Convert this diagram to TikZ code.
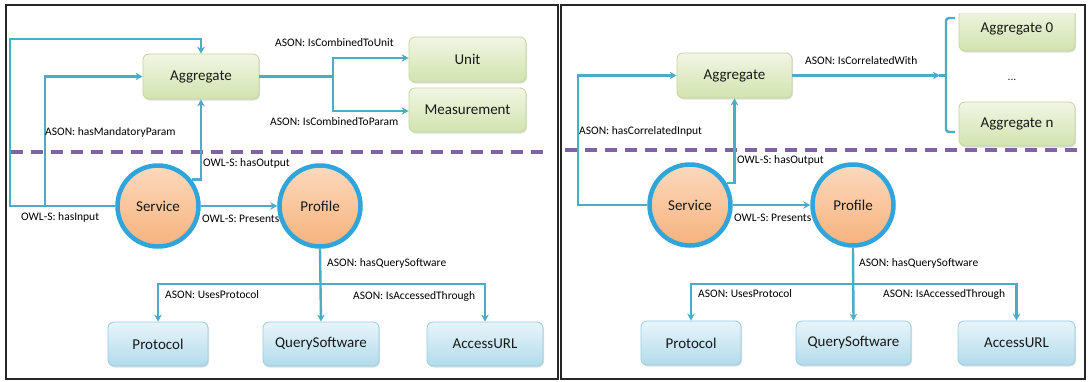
\documentclass[tikz,border=0pt]{standalone}
\usepackage{fontspec}
\setmainfont{Carlito}
\usetikzlibrary{arrows.meta,shadows}
\definecolor{linec}{HTML}{4BACC6}
\definecolor{gtop}{HTML}{F1F6E4}
\definecolor{gbot}{HTML}{D2E3AE}
\definecolor{gbord}{HTML}{C3D79C}
\definecolor{btop}{HTML}{E8F5FB}
\definecolor{bbot}{HTML}{B2DBEB}
\definecolor{bbord}{HTML}{97CDE2}
\definecolor{ctop}{HTML}{FCD9BD}
\definecolor{cbot}{HTML}{F7B27C}
\definecolor{cbord}{HTML}{2FA5DB}
\definecolor{dashc}{HTML}{8064A2}
\tikzset{
  link/.style={draw=linec, line width=2.4pt},
  linkarrow/.style={link, -{Stealth[length=7pt,width=7.5pt]}},
  greenbox/.style={rectangle, rounded corners=6pt, draw=gbord, line width=0.8pt,
    top color=gtop, bottom color=gbot, minimum width=116pt, minimum height=45pt,
    font=\fontsize{15}{18}\selectfont, text=black!90,
    drop shadow={opacity=0.25, shadow xshift=1pt, shadow yshift=-1.5pt}},
  bluebox/.style={greenbox, draw=bbord, top color=btop, bottom color=bbot, minimum height=44pt},
  ball/.style={circle, draw=cbord, line width=4.5pt, minimum size=81pt, inner sep=0pt,
    top color=ctop, bottom color=cbot, font=\fontsize{15}{18}\selectfont, text=black!90},
  lab/.style={anchor=west, inner sep=0pt, font=\fontsize{11.5}{13}\selectfont, text=black},
  divider/.style={draw=dashc, line width=3.2pt, dash pattern=on 12pt off 8pt},
  panel/.style={draw=black!85, line width=1.4pt}
}
\begin{document}
\begin{tikzpicture}[x=1pt,y=-1pt]
\useasboundingbox[fill=white] (0,0) rectangle (1088,381);
% panels
\draw[panel] (6,5) rectangle (558,379);
\draw[panel] (561,5) rectangle (1085,379);
% dashed dividers
\coordinate (dl1) at (11,152); \coordinate (dl2) at (546,152);
\coordinate (dr1) at (565,150); \coordinate (dr2) at (1084,150);
\draw[divider] (dl1) -- (dl2);
\draw[divider] (dr1) -- (dr2);

% ================= LEFT PANEL =================
\node[greenbox] (agg1) at (201,76.5) {Aggregate};
\node[greenbox, minimum width=117pt] (unit) at (467.5,59.5) {Unit};
\node[greenbox, minimum width=117pt, minimum height=44pt] (meas) at (467.5,110) {Measurement};
\node[ball] (serv1) at (158,206) {Service};
\node[ball] (prof1) at (320,206) {Profile};
\node[bluebox, minimum width=100pt] (proto1) at (158,344) {Protocol};
\node[bluebox] (qs1) at (321,344) {QuerySoftware};
\node[bluebox] (url1) at (485,344) {AccessURL};

\coordinate (li1) at (10,206);
\coordinate (li2) at (10,39);
\coordinate (li3) at (45,206);
\coordinate (sp1) at (333,76.5);
\coordinate (bus1) at (320,284);

\draw[linkarrow] (serv1.west) -- (li1) -- (li2) -| (agg1.north);
\draw[linkarrow] (li3) |- (agg1.west);
\draw[linkarrow] (serv1.38) -| (agg1.south);
\draw[link] (agg1.east) -- (sp1);
\draw[linkarrow] (sp1) |- ([yshift=1.5pt]unit.west);
\draw[linkarrow] (sp1) |- ([yshift=-1pt]meas.west);
\draw[linkarrow] (serv1.east) -- (prof1.west);
\draw[linkarrow] (prof1.south) -- (qs1.north);
\draw[linkarrow] (bus1) -| (proto1.north);
\draw[linkarrow] (bus1) -| (url1.north);

\node[lab] (l1) at (275,43) {ASON: IsCombinedToUnit};
\node[lab] (l2) at (270,122) {ASON: IsCombinedToParam};
\node[lab] (l3) at (45,132) {ASON: hasMandatoryParam};
\node[lab] (l4) at (203,163) {OWL-S: hasOutput};
\node[lab] (l5) at (21,217) {OWL-S: hasInput};
\node[lab] (l6) at (202,219) {OWL-S: Presents};
\node[lab] (l7) at (327,263) {ASON: hasQuerySoftware};
\node[lab] (l8) at (165,295) {ASON: UsesProtocol};
\node[lab] (l9) at (353,296) {ASON: IsAccessedThrough};

% ================= RIGHT PANEL =================
\node[greenbox, minimum width=115pt] (agg2) at (734.5,75.5) {Aggregate};
\begin{scope}
\clip (940,13) rectangle (1084,60);
\node[greenbox] (agg0) at (1017,28.5) {Aggregate 0};
\end{scope}
\node[inner sep=0pt, font=\fontsize{11.5}{13}\selectfont, text=black!85] (dots) at (1012,80) {...};
\node[greenbox, minimum height=44pt] (aggn) at (1017,124) {Aggregate n};
\node[ball] (serv2) at (690,205) {Service};
\node[ball] (prof2) at (853,205) {Profile};
\node[bluebox, minimum width=100pt] (proto2) at (691,343) {Protocol};
\node[bluebox, minimum width=115pt] (qs2) at (853.5,343) {QuerySoftware};
\node[bluebox, minimum width=117pt] (url2) at (1016.5,343) {AccessURL};

\coordinate (ri1) at (578,205);
\coordinate (br1) at (955,18);
\coordinate (br2) at (946,18);
\coordinate (br3) at (946,132);
\coordinate (br4) at (955,132);
\coordinate (brm) at (946,75.5);
\coordinate (bus2) at (853,284);

\draw[link, rounded corners=3pt] (br1) -- (br2) -- (br3) -- (br4);
\draw[linkarrow] (serv2.west) -- (ri1) |- (agg2.west);
\draw[linkarrow] (serv2.31) -| (agg2.south);
\draw[linkarrow] (agg2.east) -- ([xshift=-6pt]brm);
\draw[link] ([xshift=-7pt]brm) -- (brm);
\draw[linkarrow] (serv2.east) -- (prof2.west);
\draw[linkarrow] (prof2.south) -- (qs2.north);
\draw[linkarrow] (bus2) -| (proto2.north);
\draw[linkarrow] (bus2) -| (url2.north);

\node[lab] (r1) at (805,61) {ASON: IsCorrelatedWith};
\node[lab] (r2) at (579,131) {ASON: hasCorrelatedInput};
\node[lab] (r3) at (737,160) {OWL-S: hasOutput};
\node[lab] (r4) at (734,218) {OWL-S: Presents};
\node[lab] (r5) at (859,263) {ASON: hasQuerySoftware};
\node[lab] (r6) at (698,294) {ASON: UsesProtocol};
\node[lab] (r7) at (883,294) {ASON: IsAccessedThrough};
\end{tikzpicture}
\end{document}
